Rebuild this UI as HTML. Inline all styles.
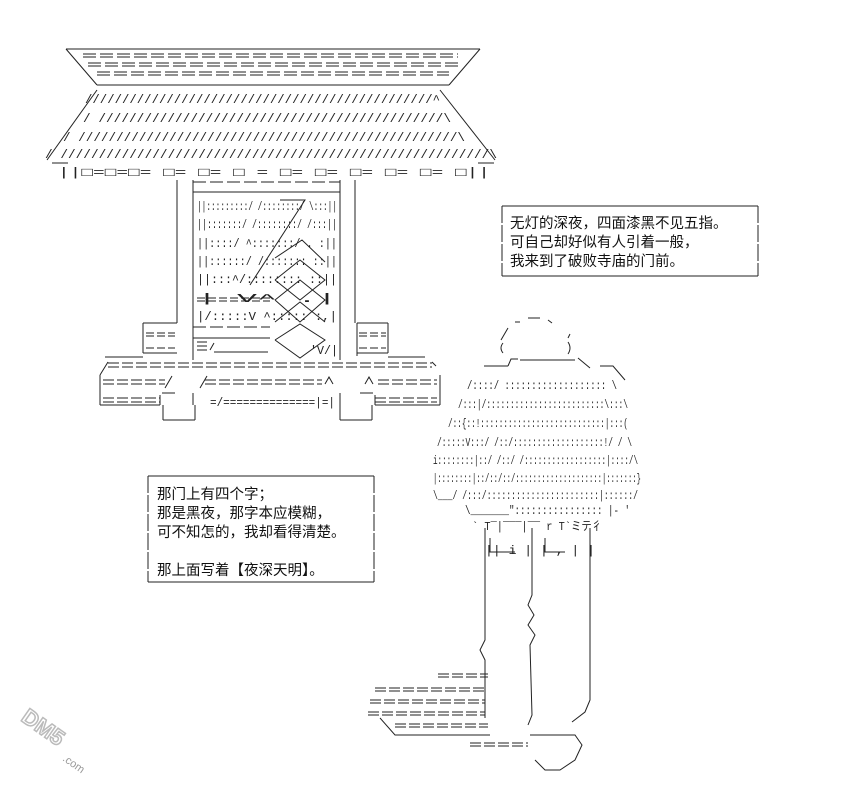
<!DOCTYPE html>
<html><head><meta charset="utf-8"><style>
html,body{margin:0;padding:0;background:#fff;}
svg{display:block}
.t{font-family:"Liberation Mono",monospace;font-size:12px;fill:#222}
.c{font-family:"Liberation Sans","Noto Sans CJK SC",sans-serif;font-size:14.5px;fill:#111}
</style></head><body>
<svg width="862" height="802" viewBox="0 0 862 802" xmlns="http://www.w3.org/2000/svg">
<g stroke="#222" stroke-width="1" fill="none">
<!-- roof -->
<line x1="66" y1="49" x2="480" y2="49"/>
<line x1="66" y1="49" x2="97" y2="85"/><line x1="480" y1="49" x2="449" y2="85"/>
<line x1="97" y1="85" x2="449" y2="85"/>
<g stroke-dasharray="13 4">
<line x1="83" y1="54" x2="458" y2="54"/><line x1="83" y1="57" x2="458" y2="57"/>
<line x1="88" y1="63" x2="460" y2="63"/><line x1="88" y1="66" x2="460" y2="66"/>
<line x1="97" y1="72" x2="449" y2="72"/><line x1="97" y1="75" x2="449" y2="75"/>
</g>
<line x1="97" y1="90" x2="47" y2="160"/><line x1="440" y1="90" x2="495" y2="160"/>
<line x1="52" y1="163" x2="68" y2="163"/><line x1="478" y1="163" x2="494" y2="163"/>
<!-- pillars -->
<line x1="177" y1="180" x2="177" y2="323"/><line x1="355" y1="180" x2="355" y2="323"/>
<line x1="193" y1="180" x2="193" y2="360"/><line x1="340" y1="180" x2="340" y2="360"/>
<line x1="193" y1="182" x2="340" y2="182" stroke-dasharray="13 4"/>
<line x1="193" y1="192" x2="340" y2="192"/>
<line x1="197" y1="298" x2="270" y2="298" stroke-dasharray="8 3"/>
<line x1="197" y1="301" x2="270" y2="301" stroke-dasharray="8 3"/>
<line x1="193" y1="327" x2="270" y2="327" stroke-dasharray="13 4"/>
<line x1="193" y1="338" x2="270" y2="338"/>
<path d="M197 342 L207 342 M197 346 L207 346 M197 350 L207 350 M210 350 L214 343 M214 352 L268 352"/>
<!-- side boxes -->
<line x1="143" y1="323" x2="177" y2="323"/><line x1="143" y1="323" x2="143" y2="353"/>
<line x1="146" y1="333" x2="175" y2="333" stroke-dasharray="8 3"/><line x1="146" y1="336" x2="175" y2="336" stroke-dasharray="8 3"/>
<line x1="146" y1="348" x2="175" y2="348" stroke-dasharray="8 3"/><line x1="143" y1="353" x2="177" y2="353"/>
<line x1="357" y1="323" x2="388" y2="323"/><line x1="388" y1="323" x2="388" y2="353"/>
<line x1="359" y1="333" x2="386" y2="333" stroke-dasharray="8 3"/><line x1="359" y1="336" x2="386" y2="336" stroke-dasharray="8 3"/>
<line x1="359" y1="348" x2="386" y2="348" stroke-dasharray="8 3"/><line x1="357" y1="353" x2="388" y2="353"/>
<line x1="357" y1="323" x2="357" y2="356"/>
<!-- base -->
<line x1="105" y1="357" x2="143" y2="357"/><line x1="388" y1="357" x2="425" y2="357"/>
<path d="M100 375 L108 362 M432 362 L436 366"/>
<g stroke-dasharray="11 3">
<line x1="108" y1="363" x2="432" y2="363"/><line x1="108" y1="367" x2="432" y2="367"/>
<line x1="103" y1="380" x2="165" y2="380"/><line x1="103" y1="384" x2="165" y2="384"/>
<line x1="205" y1="380" x2="322" y2="380"/><line x1="205" y1="384" x2="322" y2="384"/>
<line x1="378" y1="380" x2="437" y2="380"/><line x1="378" y1="384" x2="437" y2="384"/>
<line x1="103" y1="398" x2="160" y2="398"/><line x1="103" y1="402" x2="160" y2="402"/>
<line x1="375" y1="398" x2="437" y2="398"/><line x1="375" y1="402" x2="437" y2="402"/>
</g>
<path d="M165 388 L172 376 M200 388 L207 376 M325 384 L329 377 L333 384 M365 384 L369 377 L373 384"/>
<line x1="100" y1="375" x2="100" y2="405"/><line x1="440" y1="375" x2="440" y2="405"/>
<line x1="100" y1="405" x2="160" y2="405"/><line x1="375" y1="405" x2="440" y2="405"/>
<line x1="160" y1="395" x2="160" y2="405"/><line x1="375" y1="395" x2="375" y2="405"/>
<path d="M162 393 L175 393 M360 393 L373 393"/>
<line x1="193" y1="393" x2="193" y2="405"/><line x1="340" y1="393" x2="340" y2="405"/>
<line x1="163" y1="405" x2="163" y2="420"/><line x1="195" y1="405" x2="195" y2="420"/><line x1="163" y1="420" x2="195" y2="420"/>
<line x1="340" y1="405" x2="340" y2="420"/><line x1="372" y1="405" x2="372" y2="420"/><line x1="340" y1="420" x2="372" y2="420"/>
<!-- diamonds -->
<path d="M275 258 L302 240 L325 262 M275 280 L300 260 L325 280 L300 300 L275 280 M275 300 L300 280 L325 300 L300 322 L275 300 M275 322 L300 302 L325 322 M275 340 L300 324 L325 340 L300 358 L275 340"/>
<path d="M280 200 L305 200 L250 285"/>
<!-- text boxes -->
<line x1="502" y1="206" x2="758" y2="206"/><line x1="502" y1="276" x2="758" y2="276"/>
<line x1="502" y1="206" x2="502" y2="276" stroke-dasharray="17 2"/><line x1="758" y1="206" x2="758" y2="276" stroke-dasharray="17 2"/>
<line x1="148" y1="476" x2="374" y2="476"/><line x1="148" y1="582" x2="374" y2="582"/>
<line x1="148" y1="476" x2="148" y2="582" stroke-dasharray="17 2"/><line x1="374" y1="476" x2="374" y2="582" stroke-dasharray="17 2"/>
<!-- head -->
<path d="M515 322 L520 322 M528 318 L540 318 M548 320 L552 323 M508 328 L501 340 M570 334 L568 338"/>
<path d="M503 343 Q499 348 503 353 M568 342 Q572 348 568 354"/>
<path d="M484 366 L508 366 M508 366 L511 359 L518 359 M520 360 L575 360 M578 358 L590 368 M600 366 L613 366 L625 380"/>
<!-- person legs -->
<path d="M485 528 L485 640 L480 650 L485 660 L485 705"/>
<path d="M532 528 L532 595 L528 605 L534 615 L528 625 L535 635 L530 645 L532 715 L528 725"/>
<path d="M590 528 L590 700 L585 712 L572 722"/>
<path d="M530 735 L575 735 L582 745 L575 760 L560 770 L545 770 L535 760"/>
<path d="M380 718 L395 735 L490 735"/>
<path d="M490 538 L490 552 L515 552 M545 538 L545 552 L565 552"/>
<!-- shoe -->
<g stroke-dasharray="11 3">
<line x1="438" y1="674" x2="488" y2="674"/><line x1="438" y1="677" x2="488" y2="677"/>
<line x1="375" y1="688" x2="485" y2="688"/><line x1="375" y1="691" x2="485" y2="691"/>
<line x1="370" y1="700" x2="485" y2="700"/><line x1="370" y1="703" x2="485" y2="703"/>
<line x1="368" y1="712" x2="485" y2="712"/><line x1="368" y1="715" x2="485" y2="715"/>
<line x1="395" y1="724" x2="488" y2="724"/><line x1="395" y1="727" x2="488" y2="727"/>
<line x1="470" y1="743" x2="528" y2="743"/><line x1="470" y1="746" x2="528" y2="746"/>
</g>
<line x1="485" y1="675" x2="485" y2="718"/>
</g>
<g class="t">
<text x="85" y="103" textLength="355" lengthAdjust="spacingAndGlyphs">///////////////////////////////////////////////^</text>
<text x="83" y="122" textLength="368" lengthAdjust="spacingAndGlyphs">/ /////////////////////////////////////////////\</text>
<text x="63" y="141" textLength="402" lengthAdjust="spacingAndGlyphs">/ //////////////////////////////////////////////////\</text>
<text x="45" y="158" textLength="452" lengthAdjust="spacingAndGlyphs">/ ////////////////////////////////////////////////////////\</text>
<text x="58" y="176" textLength="432" lengthAdjust="spacingAndGlyphs">||□=□=□= □= □= □ = □= □= □= □= □= □||</text>
<text x="197" y="210" textLength="140" lengthAdjust="spacingAndGlyphs">||:::::::::/ /::::::::/  \:::||</text>
<text x="197" y="228" textLength="140" lengthAdjust="spacingAndGlyphs">||:::::::/ /::::::::/  /:::||</text>
<text x="197" y="247" textLength="140" lengthAdjust="spacingAndGlyphs">||::::/ ^:::::::/ .     :||</text>
<text x="197" y="265" textLength="140" lengthAdjust="spacingAndGlyphs">||::::::/ /:::::::      ::||</text>
<text x="197" y="283" textLength="140" lengthAdjust="spacingAndGlyphs">||:::^/::::::::       ::||</text>
<text x="197" y="302" textLength="140" lengthAdjust="spacingAndGlyphs">|    V^               .|</text>
<text x="197" y="320" textLength="140" lengthAdjust="spacingAndGlyphs">|/:::::V ^:::::       :,|</text>
<text x="310" y="354" textLength="28" lengthAdjust="spacingAndGlyphs">'V/|</text>
<text x="210" y="406" textLength="125" lengthAdjust="spacingAndGlyphs">=/==============|=|</text>
<!-- person -->
<text x="467" y="389" textLength="150" lengthAdjust="spacingAndGlyphs">/::::/ :::::::::::::::::::      \</text>
<text x="458" y="408" textLength="170" lengthAdjust="spacingAndGlyphs">/:::|/:::::::::::::::::::::::::\:::\</text>
<text x="448" y="427" textLength="180" lengthAdjust="spacingAndGlyphs">/::{::!:::::::::::::::::::::::::::|:::(</text>
<text x="437" y="446" textLength="195" lengthAdjust="spacingAndGlyphs">/:::::V:::/ /::/:::::::::::::::::::!/ / \</text>
<text x="433" y="464" textLength="205" lengthAdjust="spacingAndGlyphs">i::::::::|::/ /::/ /::::::::::::::::::|::::/\</text>
<text x="433" y="482" textLength="208" lengthAdjust="spacingAndGlyphs">|::::::::|::/::/::/::::::::::::::::::::|:::::::}</text>
<text x="433" y="499" textLength="205" lengthAdjust="spacingAndGlyphs">\___/ /:::/:::::::::::::::::::::::|::::::/</text>
<text x="465" y="514" textLength="165" lengthAdjust="spacingAndGlyphs">\_______"::::::::::::::::   |- '</text>
<text x="472" y="530" textLength="130" lengthAdjust="spacingAndGlyphs">` T‾|‾‾‾|‾‾ r T`ミテ彳</text>
<text x="485" y="554" textLength="110" lengthAdjust="spacingAndGlyphs">||    i   |  |    ,  |  |</text>
</g>
<g class="c">
<text x="510" y="228">无灯的深夜，四面漆黑不见五指。</text>
<text x="510" y="247">可自己却好似有人引着一般，</text>
<text x="510" y="266">我来到了破败寺庙的门前。</text>
<text x="157" y="499">那门上有四个字；</text>
<text x="157" y="518">那是黑夜，那字本应模糊，</text>
<text x="157" y="537">可不知怎的，我却看得清楚。</text>
<text x="157" y="575">那上面写着【夜深天明】。</text>
</g>
<text x="20" y="720" transform="rotate(35 20 720)" font-family="Liberation Sans,sans-serif" font-size="22" font-weight="bold" fill="#fff" stroke="#bbb" stroke-width="1.5">DM5</text>
<text x="62" y="760" transform="rotate(35 62 760)" font-family="Liberation Sans,sans-serif" font-size="11" fill="#999">.com</text>
</svg>
</body></html>
